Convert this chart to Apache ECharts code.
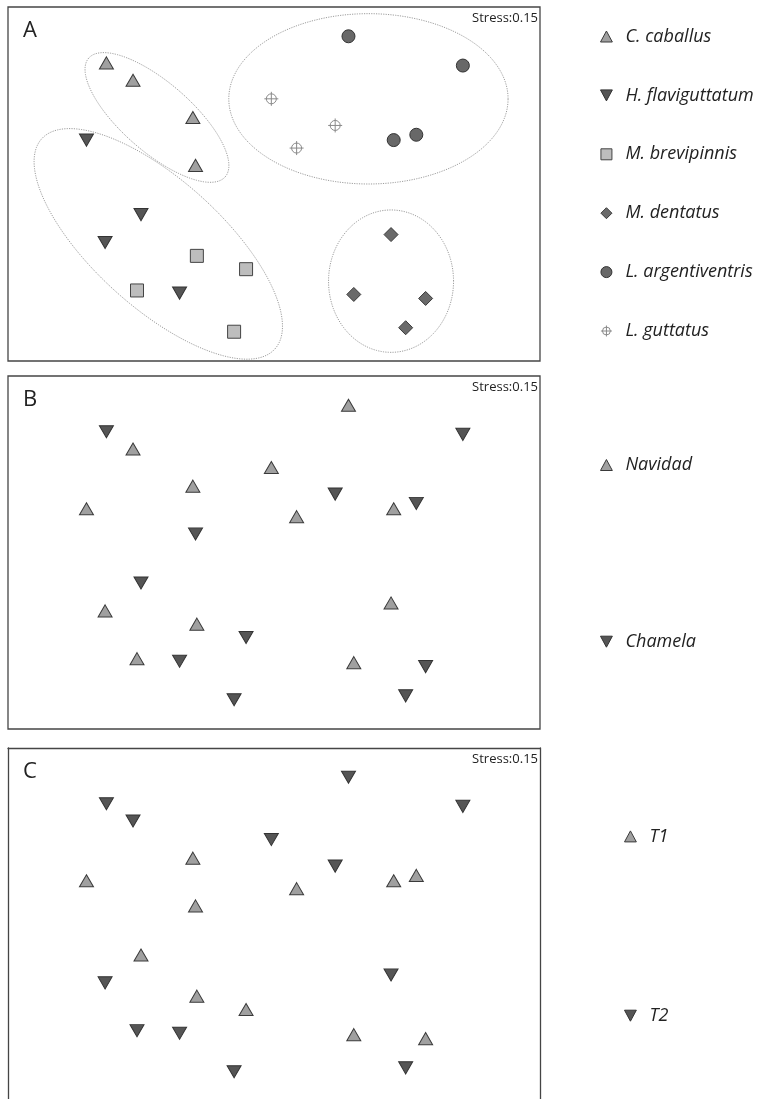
<!DOCTYPE html>
<html><head><meta charset="utf-8">
<script src="https://cdn.jsdelivr.net/npm/echarts@6/dist/echarts.min.js"></script>
<style>html,body{margin:0;padding:0;background:#fff}#c{width:768px;height:1099px}</style>
</head><body><div id="c"></div><script>
// NMDS ordination of 23 samples (same configuration in all three panels)
const nmds1 = [-1.26,-1.06,-0.61,-0.59,-1.41,-1.00,-1.27,-0.71,-0.58,-0.21,-1.03,-0.30,0.88,0.60,1.14,0.99,0.56,1.42,0.90,1.07,-0.02,0.46,0.17];
const nmds2 = [0.91,0.78,0.50,0.14,0.33,-0.23,-0.44,-0.82,-0.54,-0.64,-0.80,-1.11,-0.38,-0.83,-0.86,-1.08,1.11,0.89,0.33,0.37,0.64,0.44,0.27];
const speciesNames = ['C. caballus','H. flaviguttatum','M. brevipinnis','M. dentatus','L. argentiventris','L. guttatus'];
const siteNames = ['Navidad','Chamela'];
const seasonNames = ['T1','T2'];
const sampleSpecies = [0,0,0,0,1,1,1,1,2,2,2,2,3,3,3,3,4,4,4,4,5,5,5];
const sampleSite    = [1,0,0,1,0,1,0,1,0,1,0,1,0,0,1,1,0,1,0,1,0,1,0];
const sampleSeason  = [1,1,0,0,0,0,1,1,0,0,1,1,1,0,0,1,1,1,0,0,1,1,0];
const panelLetters = ['A','B','C'];
const stressLabel = 'Stress:0.15';
// group envelopes in NMDS units: centre x, centre y, semi-axis a, semi-axis b, rotation (deg)
const groupEllipses = [
  [-0.88, 0.50, 0.68, 0.26, -41],
  [-0.87,-0.45, 1.18, 0.48, -42],
  [ 0.71, 0.64, 1.05, 0.64,   0],
  [ 0.88,-0.73, 0.47, 0.535,  0]
];

const SYM = {
  up: 'path://M7,0L14,13L0,13Z',
  down: 'path://M0,0L14,0L7,13Z',
  square: 'path://M0,0H13V13H0Z',
  diamond: 'path://M7,0L14,7L7,14L0,7Z',
  circle: 'path://M6.5,0A6.5,6.5 0 1,1 6.5,13A6.5,6.5 0 1,1 6.5,0Z',
  cross: 'path://M0,7H14M7,0V14M2,7A5,5 0 1,1 12,7A5,5 0 1,1 2,7Z'
};
const LIGHT = {sym: SYM.up, size: [14,13], fill: '#a0a0a0', stroke: '#3a3a3a'};
const DARK  = {sym: SYM.down, size: [14,13], fill: '#555555', stroke: '#333333'};
const speciesStyle = [
  LIGHT, DARK,
  {sym: SYM.square, size: [13,13], fill: '#bdbdbd', stroke: '#444444'},
  {sym: SYM.diamond, size: [14,14], fill: '#6a6a6a', stroke: '#3a3a3a'},
  {sym: SYM.circle, size: [13,13], fill: '#686868', stroke: '#333333'},
  {sym: SYM.cross, size: [14,14], fill: 'rgba(0,0,0,0)', stroke: '#8a8a8a'}
];

function scatter(name, gi, st, groupArr, gIdx) {
  const pts = [];
  for (let i = 0; i < nmds1.length; i++) if (groupArr[i] === gIdx) pts.push([nmds1[i], nmds2[i]]);
  return {
    type: 'scatter', name, xAxisIndex: gi, yAxisIndex: gi, data: pts,
    symbol: st.sym, symbolSize: st.size, symbolKeepAspect: true, z: 3,
    itemStyle: {color: st.fill, borderColor: st.stroke, borderWidth: 1, opacity: 1},
    emphasis: {disabled: true}, silent: true
  };
}

const series = [];
series.push({
  type: 'custom', xAxisIndex: 0, yAxisIndex: 0, silent: true, z: 1,
  data: groupEllipses, dimensions: ['cx','cy','a','b','rot'], encode: {x: 0, y: 1},
  renderItem(params, api) {
    const cx = api.value(0), cy = api.value(1), a = api.value(2), b = api.value(3);
    const phi = api.value(4) * Math.PI / 180;
    const pts = [];
    for (let k = 0; k <= 160; k++) {
      const t = k / 160 * 2 * Math.PI;
      const x = cx + a * Math.cos(t) * Math.cos(phi) - b * Math.sin(t) * Math.sin(phi);
      const y = cy + a * Math.cos(t) * Math.sin(phi) + b * Math.sin(t) * Math.cos(phi);
      pts.push(api.coord([x, y]));
    }
    return {type: 'polyline', shape: {points: pts}, style: {fill: null, stroke: '#9d9d9d', lineWidth: 1, lineDash: [1.2, 1.2]}};
  }
});
speciesNames.forEach((n, k) => series.push(scatter(n, 0, speciesStyle[k], sampleSpecies, k)));
siteNames.forEach((n, k) => series.push(scatter(n, 1, k === 0 ? LIGHT : DARK, sampleSite, k)));
seasonNames.forEach((n, k) => series.push(scatter(n, 2, k === 0 ? LIGHT : DARK, sampleSeason, k)));

const gridTops = [7, 376, 748];
const gridHeights = [354, 353, 351];           // panel C is cut by the page bottom
const yMinC = 1.33 - 2.66 * 351 / 353;
const frame = {lineStyle: {color: '#454545', width: 1.3}};
const hiddenParts = {axisTick: {show: false}, axisLabel: {show: false}, splitLine: {show: false}};
const txt = {fontFamily: 'Open Sans', color: '#222', fontWeight: 'normal'};
const legendText = {fontFamily: 'Open Sans', fontStyle: 'italic', fontSize: 18, lineHeight: 18, color: '#222'};

const option = {
  animation: false,
  backgroundColor: '#fff',
  grid: gridTops.map((t, i) => ({left: 8, top: t, width: 532, height: gridHeights[i], show: i < 2, borderColor: '#454545', borderWidth: 1.3, backgroundColor: 'transparent'})),
  xAxis: [
    {gridIndex: 0, type: 'value', min: -2, max: 2, show: false},
    {gridIndex: 1, type: 'value', min: -2, max: 2, show: false},
    Object.assign({gridIndex: 2, type: 'value', min: -2, max: 2, position: 'top', axisLine: Object.assign({show: true, onZero: false}, frame)}, hiddenParts)
  ],
  yAxis: [
    {gridIndex: 0, type: 'value', min: -1.33, max: 1.33, show: false},
    {gridIndex: 1, type: 'value', min: -1.33, max: 1.33, show: false},
    Object.assign({gridIndex: 2, type: 'value', min: yMinC, max: 1.33, position: 'left', axisLine: Object.assign({show: true, onZero: false}, frame)}, hiddenParts),
    Object.assign({gridIndex: 2, type: 'value', min: yMinC, max: 1.33, position: 'right', axisLine: Object.assign({show: true, onZero: false}, frame)}, hiddenParts)
  ],
  title: [
    ...panelLetters.map((l, i) => ({text: l, left: 23, top: gridTops[i] + 13, padding: 0, textStyle: Object.assign({fontSize: 22}, txt)})),
    ...panelLetters.map((l, i) => ({text: stressLabel, right: 230, top: gridTops[i] + 5, padding: 0, textStyle: Object.assign({fontSize: 13}, txt)}))
  ],
  legend: [
    {data: speciesNames, orient: 'vertical', left: 600, top: 27.5, itemWidth: 28, itemHeight: 11, itemGap: 40.9, padding: 0, selectedMode: false, itemStyle: {borderWidth: 1}, textStyle: legendText},
    {data: siteNames, orient: 'vertical', left: 600, top: 456, itemWidth: 28, itemHeight: 11, itemGap: 158.7, padding: 0, selectedMode: false, itemStyle: {borderWidth: 1}, textStyle: legendText},
    {data: seasonNames, orient: 'vertical', left: 624, top: 827.4, itemWidth: 28, itemHeight: 11, itemGap: 161.3, padding: 0, selectedMode: false, itemStyle: {borderWidth: 1}, textStyle: legendText}
  ],
  series
};
const chart = echarts.init(document.getElementById('c'), null, {renderer: 'canvas'});
chart.setOption(option);
</script></body></html>
